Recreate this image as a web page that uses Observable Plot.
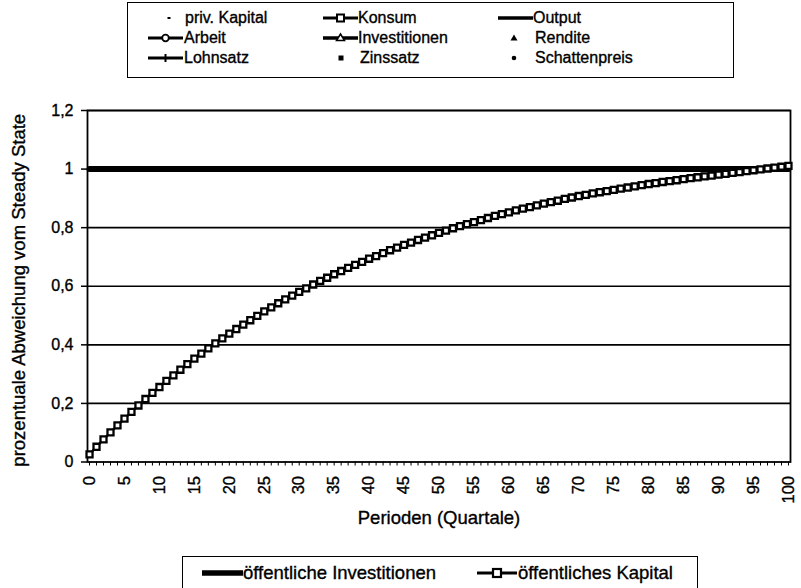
<!DOCTYPE html>
<html>
<head>
<meta charset="utf-8">
<script src="https://cdn.jsdelivr.net/npm/d3@7"></script>
<script src="https://cdn.jsdelivr.net/npm/@observablehq/plot@0.6"></script>
<style>
  html, body { margin: 0; padding: 0; background: #fff; }
  body { width: 801px; height: 588px; overflow: hidden; font-family: 'Liberation Sans', Arial, Helvetica, sans-serif; color: #000; }
  .legend { position: relative; width: 801px; }
  .box { position: absolute; border: 1.5px solid #000; box-sizing: border-box; }
  .item-text { position: absolute; white-space: nowrap; line-height: 20px; height: 20px; -webkit-text-stroke: 0.35px #000; }
  .sw { position: absolute; overflow: visible; }
  svg.chart { display: block; }
  svg.chart text { stroke: #000; stroke-width: 0.35px; }
</style>
</head>
<body>
<div id="topLegend" class="legend" style="height:80px"></div>
<div id="chart"></div>
<div id="bottomLegend" class="legend" style="height:35px"></div>
<script>
// ---------------- data ----------------
const topLegendLabels = ["priv. Kapital", "Konsum", "Output", "Arbeit", "Investitionen", "Rendite", "Lohnsatz", "Zinssatz", "Schattenpreis"];
const bottomLegendLabels = ["öffentliche Investitionen", "öffentliches Kapital"];
const yTitle = "prozentuale Abweichung vom Steady State";
const xTitle = "Perioden (Quartale)";
const yTicks = [0, 0.2, 0.4, 0.6, 0.8, 1, 1.2];
const xLabelTicks = [0, 5, 10, 15, 20, 25, 30, 35, 40, 45, 50, 55, 60, 65, 70, 75, 80, 85, 90, 95, 100];

// öffentliche Investitionen (constant at steady state)
const investitionen = [
  1,1,1,1,1,1,1,1,1,1, 1,1,1,1,1,1,1,1,1,1, 1,1,1,1,1,1,1,1,1,1,
  1,1,1,1,1,1,1,1,1,1, 1,1,1,1,1,1,1,1,1,1, 1,1,1,1,1,1,1,1,1,1,
  1,1,1,1,1,1,1,1,1,1, 1,1,1,1,1,1,1,1,1,1, 1,1,1,1,1,1,1,1,1,1,
  1,1,1,1,1,1,1,1,1,1, 1
];
// öffentliches Kapital (periods 0..100)
const kapital = [
  0.026,0.052,0.077,0.101,0.125,0.148,0.171,0.193,0.215,0.236,
  0.256,0.277,0.296,0.315,0.334,0.353,0.370,0.388,0.405,0.422,
  0.438,0.454,0.469,0.484,0.499,0.514,0.528,0.542,0.555,0.568,
  0.581,0.593,0.606,0.618,0.629,0.641,0.652,0.663,0.673,0.683,
  0.694,0.703,0.713,0.723,0.732,0.741,0.749,0.758,0.766,0.774,
  0.782,0.790,0.798,0.805,0.812,0.819,0.826,0.833,0.840,0.846,
  0.852,0.859,0.865,0.870,0.876,0.882,0.887,0.892,0.898,0.903,
  0.908,0.912,0.917,0.921,0.925,0.929,0.933,0.937,0.941,0.945,
  0.949,0.952,0.956,0.959,0.962,0.966,0.969,0.972,0.975,0.978,
  0.981,0.984,0.987,0.990,0.993,0.996,0.999,1.002,1.005,1.008,
  1.011
];

const periods = kapital.map((_, i) => i);
const invData = investitionen.map((v, i) => ({period: i, value: v}));
const kapData = kapital.map((v, i) => ({period: i, value: v}));

const FONT = "'Liberation Sans', Arial, Helvetica, sans-serif";
const fmt = d => String(d).replace(".", ",");

// ---------------- chart ----------------
const chart = Plot.plot({
  width: 801,
  height: 473,
  marginTop: 30,
  marginBottom: 91.5,
  marginLeft: 87,
  marginRight: 11,
  x: {domain: [-0.29, 100.29]},
  y: {domain: [0, 1.2]},
  style: {fontFamily: FONT, fontSize: "16px", color: "#000", background: "#fff", overflow: "visible"},
  marks: [
    Plot.ruleY(yTicks.filter(d => d > 0), {stroke: "#000", strokeWidth: 1.6}),
    Plot.frame({stroke: "#000", strokeWidth: 1.8}),
    Plot.axisY({ticks: yTicks, tickSize: 6, tickPadding: 8, tickFormat: fmt, label: null, strokeWidth: 1.5}),
    Plot.axisX({ticks: periods, tickSize: 4, tickFormat: () => "", label: null, strokeWidth: 1}),
    Plot.axisX({ticks: xLabelTicks, tickSize: 0, tickPadding: 14, tickRotate: -90, tickFormat: d => String(d), label: null, fontSize: 16.5}),
    Plot.line(invData, {x: "period", y: "value", stroke: "#000", strokeWidth: 6}),
    Plot.line(kapData, {x: "period", y: "value", stroke: "#000", strokeWidth: 2.5}),
    Plot.dot(kapData, {x: "period", y: "value", symbol: "square", r: 3.4, fill: "#fff", stroke: "#000", strokeWidth: 2.3}),
    Plot.text([yTitle], {text: d => d, frameAnchor: "left", textAnchor: "middle", dx: -68, dy: 4, rotate: -90, fontSize: 18.5}),
    Plot.text([xTitle], {text: d => d, frameAnchor: "bottom", textAnchor: "middle", dy: 62, fontSize: 18.5})
  ]
});
chart.classList.add("chart");
document.getElementById("chart").appendChild(chart);

// ---------------- legends ----------------
const NS = "http://www.w3.org/2000/svg";
function swatch(type, w) {
  const h = 16, cy = 8, cx = w / 2;
  let s = "";
  const line = (sw) => `<line x1="0" y1="${cy}" x2="${w}" y2="${cy}" stroke="#000" stroke-width="${sw}"/>`;
  switch (type) {
    case "dash": s = `<rect x="${cx - 1.5}" y="${cy - 1}" width="3" height="2" fill="#000"/>`; break;
    case "lineSquare": s = line(2.8) + `<rect x="${cx - 3.5}" y="${cy - 3.5}" width="7" height="7" fill="#fff" stroke="#000" stroke-width="2"/>`; break;
    case "bigLineSquare": s = line(2.8) + `<rect x="${cx - 4}" y="${cy - 4}" width="8" height="8" fill="#fff" stroke="#000" stroke-width="2.2"/>`; break;
    case "thick": s = line(3.5); break;
    case "thicker": s = line(5.5); break;
    case "lineCircle": s = line(2.8) + `<circle cx="${cx}" cy="${cy}" r="3.3" fill="#fff" stroke="#000" stroke-width="1.8"/>`; break;
    case "lineTri": s = line(3.5) + `<path d="M${cx},${cy - 4} L${cx + 4},${cy + 2.5} L${cx - 4},${cy + 2.5} Z" fill="#fff" stroke="#000" stroke-width="1.5"/>`; break;
    case "tri": s = `<path d="M${cx},${cy - 3.5} L${cx + 3.5},${cy + 2.5} L${cx - 3.5},${cy + 2.5} Z" fill="#000"/>`; break;
    case "linePlus": s = line(2.8) + `<line x1="${cx}" y1="${cy - 4}" x2="${cx}" y2="${cy + 4}" stroke="#000" stroke-width="2"/>`; break;
    case "sq": s = `<rect x="${cx - 2.5}" y="${cy - 2.5}" width="5" height="5" fill="#000"/>`; break;
    case "dot": s = `<circle cx="${cx}" cy="${cy}" r="2.3" fill="#000"/>`; break;
  }
  const el = document.createElementNS(NS, "svg");
  el.setAttribute("width", w);
  el.setAttribute("height", h);
  el.setAttribute("class", "sw");
  el.innerHTML = s;
  return el;
}
function addItem(container, label, type, symLeft, symWidth, textLeft, cy, fontSize) {
  const sw = swatch(type, symWidth);
  sw.style.left = symLeft + "px";
  sw.style.top = (cy - 8) + "px";
  container.appendChild(sw);
  const t = document.createElement("div");
  t.className = "item-text";
  t.textContent = label;
  t.style.left = textLeft + "px";
  t.style.top = (cy - 10) + "px";
  t.style.fontSize = fontSize + "px";
  container.appendChild(t);
}

const topLeg = document.getElementById("topLegend");
const topBox = document.createElement("div");
topBox.className = "box";
Object.assign(topBox.style, {left: "127px", top: "2px", width: "607px", height: "76px"});
topLeg.appendChild(topBox);
const topTypes = ["dash", "lineSquare", "thick", "lineCircle", "lineTri", "tri", "linePlus", "sq", "dot"];
const colLine = [148, 323, 498];   // left of line swatches
const colMarkCenter = [169, 341, 514];
const colTextLine = [184, 358, 533];
const colTextMark = [185, 360, 535];
const rowY = [18, 38, 58];
topLegendLabels.forEach((label, i) => {
  const r = Math.floor(i / 3), c = i % 3;
  const type = topTypes[i];
  const markerOnly = ["dash", "tri", "sq", "dot"].includes(type);
  if (markerOnly) {
    addItem(topLeg, label, type, colMarkCenter[c] - 6, 12, colTextMark[c], rowY[r], 16);
  } else {
    addItem(topLeg, label, type, colLine[c], 35, colTextLine[c], rowY[r], 16);
  }
});

const bottomLeg = document.getElementById("bottomLegend");
const botBox = document.createElement("div");
botBox.className = "box";
Object.assign(botBox.style, {left: "182px", top: "3px", width: "516px", height: "33px"});
bottomLeg.appendChild(botBox);
addItem(bottomLeg, bottomLegendLabels[0], "thicker", 202, 41, 243, 20, 18.5);
addItem(bottomLeg, bottomLegendLabels[1], "bigLineSquare", 477, 40, 518, 20, 18.5);
</script>
</body>
</html>
